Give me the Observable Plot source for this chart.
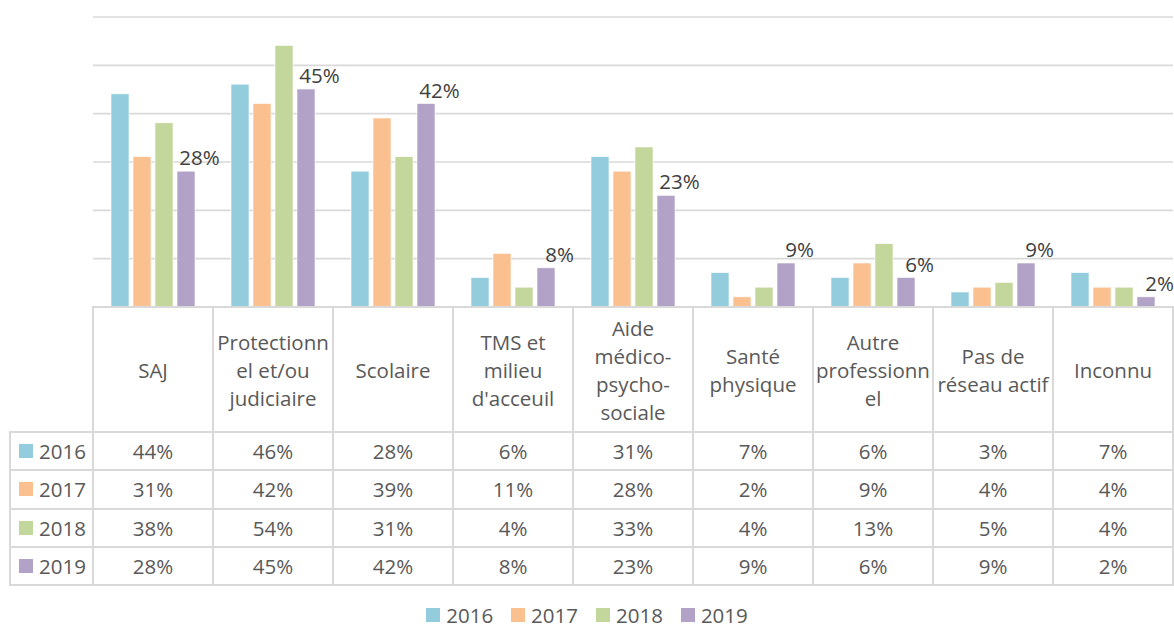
<!DOCTYPE html>
<html>
<head>
<meta charset="utf-8">
<script src="https://cdn.jsdelivr.net/npm/d3@7"></script>
<script src="https://cdn.jsdelivr.net/npm/@observablehq/plot@0.6"></script>
<style>
  html, body { margin: 0; padding: 0; background: #fff; }
  #wrap { position: relative; width: 1174px; height: 630px; overflow: hidden; font-family: "Open Sans", sans-serif; color: #595959; }
  #chart { position: absolute; left: 0; top: 0; }
  .ln { position: absolute; background: #d9d9d9; }
  .cell { position: absolute; display: flex; align-items: center; justify-content: center; text-align: center; font-size: 20.5px; line-height: 28px; white-space: pre; color: #595959; }
  .sw { display: inline-block; width: 14px; height: 14px; margin-right: 6px; }
  #legend { position: absolute; left: 0; width: 1174px; top: 601px; height: 28px; display: flex; justify-content: center; gap: 18px; font-size: 20.5px; line-height: 28px; }
  #legend span.item { display: inline-flex; align-items: center; }
</style>
</head>
<body>
<div id="wrap"><div id="chart"></div></div>
<script>
const categories = ["SAJ", "Protectionnel et/ou judiciaire", "Scolaire", "TMS et milieu d'acceuil", "Aide médico-psycho-sociale", "Santé physique", "Autre professionnel", "Pas de réseau actif", "Inconnu"];
const categoryLabels = ["SAJ", "Protectionn\nel et/ou\njudiciaire", "Scolaire", "TMS et\nmilieu\nd'acceuil", "Aide\nmédico-\npsycho-\nsociale", "Santé\nphysique", "Autre\nprofessionn\nel", "Pas de\nréseau actif", "Inconnu"];
const years = ["2016", "2017", "2018", "2019"];
const v2016 = [44, 46, 28, 6, 31, 7, 6, 3, 7];
const v2017 = [31, 42, 39, 11, 28, 2, 9, 4, 4];
const v2018 = [38, 54, 31, 4, 33, 4, 13, 5, 4];
const v2019 = [28, 45, 42, 8, 23, 9, 6, 9, 2];
const colors = ["#93CDDD", "#FAC090", "#C3D69B", "#B3A2C7"];
const yTicks = [0, 10, 20, 30, 40, 50, 60];
const labeledYear = "2019";

const series = [v2016, v2017, v2018, v2019];
const rows = categories.flatMap((c, i) => years.map((y, j) => ({cat: c, year: y, value: series[j][i]})));

const chart = Plot.plot({
  width: 1174,
  height: 308,
  marginLeft: 93,
  marginRight: 1,
  marginTop: 16.5,
  marginBottom: 1.5,
  style: {fontFamily: "'Open Sans', sans-serif", background: "transparent"},
  fx: {domain: categories, padding: 0, axis: null},
  x: {domain: years, paddingInner: 0.2, paddingOuter: 0.82, axis: null},
  y: {domain: [0, 60], axis: null},
  color: {domain: years, range: colors},
  marks: [
    Plot.ruleY(yTicks, {stroke: "#d9d9d9", strokeWidth: 1.6}),
    Plot.barY(rows, {fx: "cat", x: "year", y: "value", fill: "year", stroke: "white", strokeWidth: 0.6}),
    Plot.text(rows.filter(d => d.year === labeledYear), {
      fx: "cat", x: "year", y: "value", text: d => d.value + "%",
      dy: -13, dx: 13, fill: "#404040", fontSize: 20.5
    })
  ]
});
document.getElementById("chart").appendChild(chart);

// Data table aligned to the fx scale
const wrap = document.getElementById("wrap");
const fx = chart.scale("fx");
const bw = fx.bandwidth;
const left0 = 93;
const colX = categories.map(c => left0 + fx.apply(c) - fx.apply(categories[0]));
const tableTop = 306;
const headerH = 125;
const rowH = 38.3;
const legendLeft = 10;
const right = colX[colX.length - 1] + bw;
const lw = 2;

function line(x, y, w, h) {
  const d = document.createElement("div");
  d.className = "ln";
  d.style.left = x + "px"; d.style.top = y + "px"; d.style.width = w + "px"; d.style.height = h + "px";
  wrap.appendChild(d);
}
function cell(x, y, w, h, html) {
  const d = document.createElement("div");
  d.className = "cell";
  d.style.left = x + "px"; d.style.top = y + "px"; d.style.width = w + "px"; d.style.height = h + "px";
  d.innerHTML = html;
  wrap.appendChild(d);
}
const bottom = tableTop + headerH + rowH * years.length;
line(left0 - 1, tableTop, right - left0 + 2, lw);
for (let r = 0; r <= years.length; r++) {
  line(legendLeft - 1, tableTop + headerH + r * rowH, right - legendLeft + 2, lw);
}
line(legendLeft - 1, tableTop + headerH, lw, rowH * years.length + lw);
colX.forEach(x => line(x - 1, tableTop, lw, bottom - tableTop + lw));
line(right - 1, tableTop, lw, bottom - tableTop + lw);

categoryLabels.forEach((lab, i) => cell(colX[i], tableTop + 1, bw, headerH, lab));
years.forEach((yr, j) => {
  const y = tableTop + headerH + j * rowH + 1;
  cell(legendLeft + 2, y, left0 - legendLeft - 2, rowH, `<span class="sw" style="background:${colors[j]}"></span>${yr}`);
  series[j].forEach((v, i) => cell(colX[i], y, bw, rowH, v + "%"));
});

const lg = document.createElement("div");
lg.id = "legend";
lg.innerHTML = years.map((yr, j) => `<span class="item"><span class="sw" style="background:${colors[j]}"></span>${yr}</span>`).join("");
wrap.appendChild(lg);
</script>
</body>
</html>
